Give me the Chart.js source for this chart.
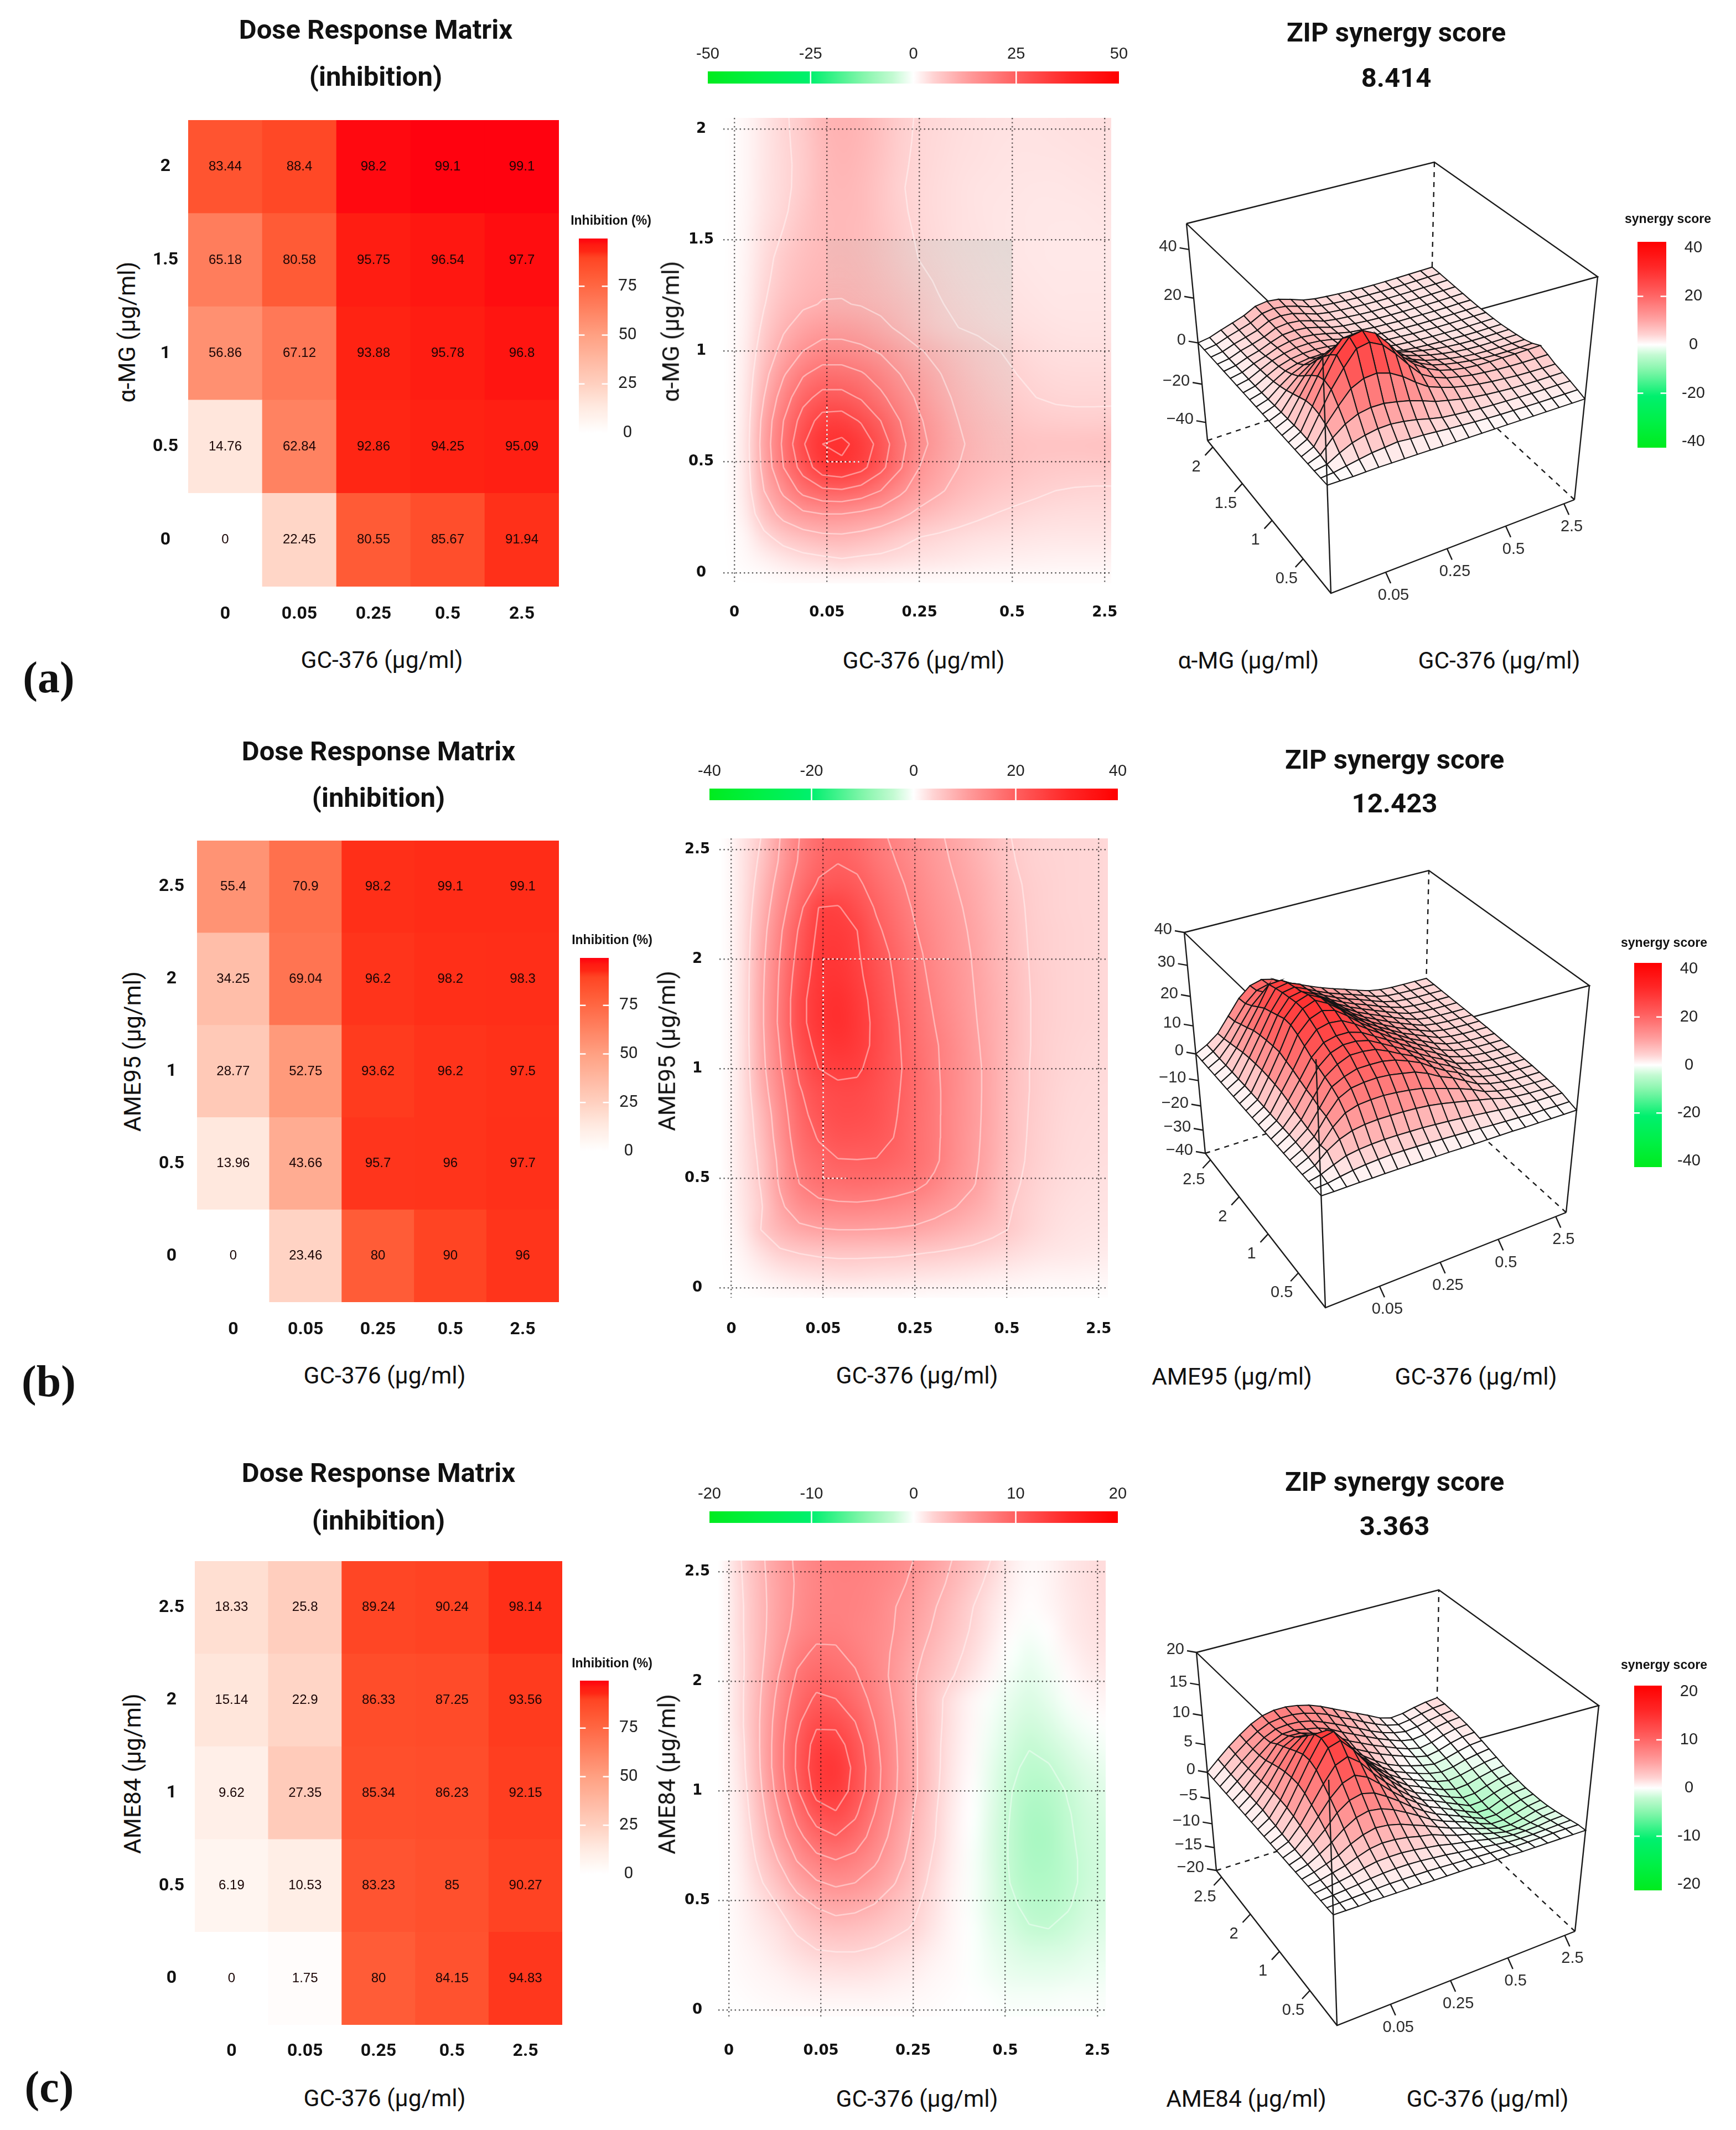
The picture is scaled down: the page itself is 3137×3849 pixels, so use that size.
<!DOCTYPE html>
<html>
<head>
<meta charset="utf-8">
<title>Dose response and ZIP synergy</title>
<style>
html, body { margin: 0; background: #fff; }
#page { position: relative; width: 3137px; height: 3849px; overflow: hidden; background: #fff; }
canvas { position: absolute; }
.t { position: absolute; white-space: nowrap; line-height: 1; color: #111; }
</style>
<script src="https://cdn.jsdelivr.net/npm/chart.js@4.4.1/dist/chart.umd.min.js"></script>
</head>
<body>
<div id="page"></div>
<script>
// dose labels
const gcDoses = ['0', '0.05', '0.25', '0.5', '2.5'];
const mgDoses = ['0', '0.5', '1', '1.5', '2'];
const ameDoses = ['0', '0.5', '1', '2', '2.5'];

// inhibition %, first row is the lowest dose of the y drug
const inhibitionA = [
  [0, 22.45, 80.55, 85.67, 91.94],
  [14.76, 62.84, 92.86, 94.25, 95.09],
  [56.86, 67.12, 93.88, 95.78, 96.8],
  [65.18, 80.58, 95.75, 96.54, 97.7],
  [83.44, 88.4, 98.2, 99.1, 99.1]
];
const inhibitionB = [
  [0, 23.46, 80, 90, 96],
  [13.96, 43.66, 95.7, 96, 97.7],
  [28.77, 52.75, 93.62, 96.2, 97.5],
  [34.25, 69.04, 96.2, 98.2, 98.3],
  [55.4, 70.9, 98.2, 99.1, 99.1]
];
const inhibitionC = [
  [0, 1.75, 80, 84.15, 94.83],
  [6.19, 10.53, 83.23, 85, 90.27],
  [9.62, 27.35, 85.34, 86.23, 92.15],
  [15.14, 22.9, 86.33, 87.25, 93.56],
  [18.33, 25.8, 89.24, 90.24, 98.14]
];

// synergy surfaces, first row is the bottom of the map
const synergyA = [
  [0,0,0,.2,.3,.3,.3,.3,.3,.2,.2,.2,.2,.2,.2,.2,.2,.2,.2,.2,.2],
  [0,.5,1.5,2.5,3.5,4,4.6,4.1,3.9,3.5,3,2.7,2.3,2,1.8,1.7,1.6,1.5,1.5,1.5,1.5],
  [0,1,4,6.5,8,9,9.2,8.6,7.6,6.2,5,4.4,3.9,3.5,3.2,3,2.8,2.7,2.7,2.7,2.7],
  [0,2,7.5,11.5,14,15,15,14,12.8,11,9,7.7,6.5,5.6,4.9,4.4,4,3.8,3.7,3.7,3.7],
  [0,2.5,10,16,21.5,24,24.5,23,20,16,12.5,10.5,8.8,7.6,6.7,6,5.5,5,4.8,4.7,4.7],
  [0,2.7,11.5,20,27,33,34,31.5,26.5,20.5,15,12,10,8.8,7.8,7.2,6.7,6.4,6.2,6.2,6.2],
  [0,2.8,12,21,29.5,35,36,33.5,28,21.5,16.5,13,10.5,9,8,7.5,7.3,7.3,7.3,7.4,7.5],
  [0,2.6,11.5,20,27,32,32.5,29.5,25,20,15.5,12.5,10,8.6,7.5,6.7,6,5.7,5.6,5.6,5.7],
  [0,2.4,10,17.5,23.5,26.5,26.5,24.5,21,17.5,14,11.3,9.2,7.8,6.6,5.7,5,4.7,4.6,4.6,4.6],
  [0,2.2,8.5,14.5,19.5,22,22,20.5,18,15,12.3,10.2,8.4,7,5.9,5,4.4,4.1,4,4,4],
  [0,2,7,11.5,15,17,17,16,14.5,12.2,10.3,8.8,7.3,6.1,5.1,4.4,3.9,3.6,3.5,3.5,3.5],
  [0,1.7,5.8,9.4,11.8,13,13,12.4,11,9.3,7.6,6,5,4.4,3.9,3.6,3.3,3.1,3,3,3],
  [0,1.5,4.8,7.8,9.4,10.2,10.2,9.8,9,8,6.6,5.2,4.4,3.9,3.5,3.2,3,2.8,2.8,2.8,2.8],
  [0,1.3,4.2,6.8,8.4,9.2,9.4,9,8.2,6.9,5.6,4.7,4,3.6,3.2,3,2.8,2.7,2.7,2.7,2.7],
  [0,1.2,3.8,6.2,7.8,8.8,9,8.6,7.6,6.2,4.9,4.2,3.7,3.3,3,2.8,2.7,2.6,2.6,2.6,2.6],
  [0,1.1,3.4,5.2,7.3,8.5,8.8,8.3,7.2,5.8,4.6,4,3.5,3.2,2.9,2.8,2.7,2.6,2.6,2.7,2.7],
  [0,1,3,4.5,6.6,8.4,8.8,8.4,7,5.4,4.4,3.9,3.4,3.1,2.9,2.8,2.7,2.7,2.7,2.8,2.9],
  [0,.9,2.9,4.3,6,8.4,9,8.5,7,5.2,4.4,3.9,3.4,3.1,3,2.9,2.8,2.8,2.9,3,3.1],
  [0,.9,2.8,4.3,5.9,8.5,9.3,8.8,7.2,5.4,4.5,4,3.6,3.3,3.1,3,3,3,3.1,3.2,3.3],
  [0,.9,2.8,4.4,6.1,8.8,9.6,9,7.5,5.6,4.6,4.1,3.7,3.4,3.2,3.1,3.1,3.2,3.3,3.4,3.5],
  [0,.9,2.8,4.5,6.3,9,9.8,9.2,7.6,5.7,4.7,4.2,3.8,3.5,3.3,3.2,3.2,3.3,3.4,3.5,3.6]
];
const synergyB = [
  [0,0,.1,.2,.2,.3,.3,.3,.3,.3,.3,.2,.2,.2,.2,.2,.1,.1,.1,.1,.1],
  [0,.4,1.2,1.9,2.4,2.7,2.9,2.9,2.8,2.7,2.5,2.3,2.1,1.9,1.6,1.4,1.2,1,1,.9,.9],
  [0,1,2.8,4.4,5.1,5.5,5.7,5.7,5.6,5.5,5.2,4.9,4.5,4.1,3.6,3.1,2.6,2.2,2,1.9,1.8],
  [0,1.6,5,7.5,9,9.7,10,10,9.9,9.7,9.3,8.6,7.7,6.8,5.8,4.8,3.6,2.9,2.5,2.3,2.2],
  [0,2,4.6,9.2,12.5,13.8,14.2,14.3,14,13.5,12.8,11.5,10.2,8.8,7.2,5.1,3.9,3.2,2.8,2.6,2.5],
  [0,2.2,5.2,10.5,15,17,17.6,17.8,17.5,16.8,16,14.3,12,10.3,8,5.6,4.3,3.5,3,2.8,2.7],
  [0,2.4,5.6,11,16.5,18.5,19.8,19.9,19.8,19,17.5,15.7,13,10.6,8.6,5.9,4.6,3.7,3.2,3,2.9],
  [0,2.5,6.2,12,17.5,20.3,22,22,21.5,19.8,17.7,15.8,13.2,10.8,8.7,6.1,4.7,3.8,3.3,3.1,3],
  [0,2.5,6.8,12.6,18.5,21.8,23.2,23.2,22.3,20.2,18,15.8,13.3,10.9,8.8,6.2,4.8,3.9,3.4,3.2,3.1],
  [0,2.5,7.8,13.5,19.5,23,24,24,22.8,20.5,18.2,15.8,13.4,11,8.8,6.3,4.9,4,3.5,3.3,3.2],
  [0,2.5,8.5,14.5,21,25,26,25.6,23.5,20.8,18.3,15.6,13.4,11,8.8,6.4,4.9,4.1,3.6,3.4,3.3],
  [0,2.5,8.8,15.2,22.5,26.3,27.8,26.8,24,20.7,17.9,15.5,13.2,10.7,8.7,6.6,5,4.1,3.7,3.5,3.4],
  [0,2.5,9,16,23.5,27.5,29,27,24,20.5,17.5,15,12.7,10.4,8.6,6.8,5,4.2,3.8,3.6,3.5],
  [0,2.5,9,15.8,23.5,27.5,28.8,26.8,23.5,20,17,14.5,12.3,10.2,8.4,6.7,5,4.2,3.8,3.6,3.5],
  [0,2.5,8.8,15.5,22.5,27,27.8,26,22.8,19.5,16.5,14,12,10,8.2,6.5,4.9,4.2,3.8,3.6,3.5],
  [0,2.4,8.5,15,21.5,26.5,27.2,25.5,22,19,16,13.5,11.6,9.8,8,6.3,4.8,4.1,3.8,3.6,3.5],
  [0,2.4,8,14.3,20.5,25.8,26.5,25,20.8,18,15.2,13,11.2,9.5,7.8,6.1,4.7,4.1,3.8,3.6,3.5],
  [0,2.3,7.2,13,18.8,25,25.3,23,19.5,17,14.5,12.5,10.7,9.2,7.5,5.9,4.6,4,3.7,3.6,3.5],
  [0,2.2,6.4,11.8,17,20.5,21.8,20.8,18.2,16,13.8,11.9,10.2,8.8,7.2,5.6,4.5,4,3.7,3.6,3.5],
  [0,2.2,5.6,10.5,15.5,18.8,19.8,19,16.8,15,13,11.2,9.7,8.3,6.8,5.2,4.3,3.9,3.7,3.6,3.5],
  [0,2.1,5,10,15,18.2,19.2,18.2,16,14.3,12.5,10.8,9.3,7.9,6.4,5,4.2,3.8,3.7,3.6,3.5]
];
const synergyC = [
  [0,0,0,.1,.1,.1,.1,.1,.1,.1,.1,.1,0,0,0,-.1,-.1,-.1,-.1,-.1,-.1],
  [0,.1,.2,.3,.4,.5,.5,.5,.5,.4,.3,.2,.1,0,-.1,-.3,-.3,-.3,-.2,-.2,-.2],
  [0,.2,.4,.6,.9,1.1,1.2,1.2,1.1,.9,.7,.4,.2,-.1,-.4,-.7,-.8,-.8,-.7,-.6,-.5],
  [0,.3,.6,1,1.5,1.9,2,2,1.8,1.5,1.2,.7,.3,-.1,-.6,-1,-1.3,-1.3,-1.2,-.9,-.8],
  [0,.4,.9,1.4,2.2,2.9,3.2,3.1,2.8,2.3,1.9,1.1,.4,-.1,-.8,-1.4,-1.9,-2,-1.7,-1.3,-1.1],
  [0,.5,1.2,2,3.2,4.1,4.6,4.4,3.9,3.1,2.3,1.4,.5,-.2,-1,-1.7,-2.4,-2.5,-2.1,-1.5,-1.3],
  [0,.6,1.7,3,4.6,5.8,6.3,6,5.2,4.1,2.9,1.6,.6,-.2,-1,-2,-2.8,-2.8,-2.3,-1.7,-1.4],
  [0,.7,2.2,4,6.1,7.5,8,7.5,6.3,4.9,3.3,1.9,.7,-.2,-1.1,-2.1,-3,-3,-2.3,-1.7,-1.4],
  [0,.8,2.6,5,7.4,9.2,9.9,9,7.3,5.4,3.7,2.2,.8,-.1,-1.1,-2.1,-3.1,-3.1,-2.2,-1.6,-1.4],
  [0,.9,3,5.8,8.6,11,11.8,10.3,8,5.9,4,2.3,.9,0,-1,-2,-3,-2.9,-2.1,-1.5,-1.2],
  [0,1,3.4,6.6,9.8,12.7,13.3,11.3,8.7,6.3,4.4,2.5,1,.1,-.9,-1.9,-2.7,-2.6,-1.9,-1.3,-1],
  [0,1.2,3.7,7,10.3,13.2,13.7,11.5,8.8,6.4,4.4,2.6,1.1,.2,-.8,-1.7,-2.3,-2.1,-1.5,-1,-.7],
  [0,1.3,3.8,7,10.2,12.8,12.9,11,8.5,6.3,4.4,2.6,1.2,.3,-.6,-1.4,-1.9,-1.6,-1.1,-.6,-.3],
  [0,1.5,3.8,6.8,9.6,11.6,11.5,10,8,6.1,4.3,2.7,1.3,.4,-.4,-1.1,-1.5,-1.2,-.6,-.2,.1],
  [0,1.5,3.7,6.4,8.9,10.3,10,8.9,7.5,5.8,4.2,2.7,1.4,.5,-.2,-.8,-1.2,-.8,-.2,.3,.5],
  [0,1.5,3.5,5.9,8.2,9.2,9,8.2,7,5.6,4.2,3.1,2.1,1.2,.4,-.4,-.9,-.5,.2,.7,.9],
  [0,1.5,3.4,5.3,7.5,8.3,8.2,7.6,6.8,5.8,4.5,3.5,2.5,1.6,.7,-.1,-.6,-.2,.5,1,1.2],
  [0,1.6,3.3,5,6.6,7.5,7.6,7.2,6.8,6,4.9,3.9,2.9,1.9,1,.2,-.2,.1,.8,1.2,1.4],
  [0,1.6,3.3,4.9,6.3,7.2,7.4,7.3,6.9,6.1,5.2,4.2,3.2,2.1,1.2,.5,.1,.4,.9,1.3,1.5],
  [0,1.7,3.4,4.9,6.2,7.1,7.4,7.4,7.1,6.5,5.7,4.6,3.7,2.6,1.6,.7,.2,.5,1,1.4,1.6],
  [0,1.8,3.5,5,6.3,7.2,7.6,7.6,7.3,6.8,6,5,4,3,2,.9,.3,.5,1,1.4,1.6]
];

const contourLevelsA = [5, 10, 15, 20, 25, 30, 35];
const contourLevelsB = [5, 10, 15, 20, 25];
const contourLevelsC = [-2, 2, 4, 6, 8, 10, 12];

const zTicksA = [40, 20, 0, -20, -40];
const zTicksB = [40, 30, 20, 10, 0, -10, -20, -30, -40];
const zTicksC = [20, 15, 10, 5, 0, -5, -10, -15, -20];

const inhibitionBarTicks = [0, 25, 50, 75];
const sideBarTicks40 = [-40, -20, 0, 20, 40];
const sideBarTicks20 = [-20, -10, 0, 10, 20];
const topBarTicksA = [-50, -25, 0, 25, 50];
const topBarTicksB = [-40, -20, 0, 20, 40];
const topBarTicksC = [-20, -10, 0, 10, 20];

// grid of the synergy tables runs over these dose indexes
const GRID_MIN = -0.1, GRID_MAX = 4.1;

Chart.defaults.animation = false;
Chart.defaults.responsive = false;
Chart.defaults.devicePixelRatio = 1;
Chart.defaults.plugins.legend.display = false;
Chart.defaults.plugins.tooltip.enabled = false;
Chart.defaults.color = '#111';

const page = document.getElementById('page');

function addCanvas(l, t, w, h) {
  const c = document.createElement('canvas');
  c.width = w; c.height = h;
  c.style.left = l + 'px'; c.style.top = t + 'px';
  c.style.width = w + 'px'; c.style.height = h + 'px';
  page.appendChild(c);
  return c;
}

function addText(str, x, y, font, rot) {
  const d = document.createElement('div');
  d.className = 't';
  d.textContent = str;
  d.style.left = x + 'px'; d.style.top = y + 'px';
  d.style.font = font;
  d.style.lineHeight = '1';
  d.style.transform = 'translate(-50%,-50%)' + (rot ? ' rotate(' + rot + 'deg)' : '');
  page.appendChild(d);
}

// keep the plot box where it is asked for, whatever the tick labels measure
function fixSize(s, w, h) {
  if (w !== null) s.width = w;
  if (h !== null) s.height = h;
  s.paddingLeft = s.paddingRight = s.paddingTop = s.paddingBottom = 0;
}

// colour ramps: [stop, r, g, b]
const inhibitionCommon = [[0,255,255,255],[14,255,232,222],[25,255,208,192],[50,255,160,130],[65,255,125,92],[80,255,92,55],[90,255,68,35]];
const inhibitionHot = inhibitionCommon.concat([[92.9,255,38,20],[96,255,28,18],[99,255,2,15]]);
const inhibitionMild = inhibitionCommon.concat([[100,255,42,22]]);
const synergyStops = [[0,255,255,255],[.1,255,210,210],[.25,255,160,160],[.5,255,95,95],[.75,255,40,40],[1,255,0,0]];
const greenStops = [[0,255,255,255],[.1,195,250,210],[.25,130,245,170],[.5,0,240,110],[.75,0,240,70],[1,0,235,30]];

function ramp(stops, v) {
  if (v <= stops[0][0]) return stops[0].slice(1);
  for (let i = 1; i < stops.length; i++) {
    if (v <= stops[i][0]) {
      const a = stops[i - 1], b = stops[i], k = (v - a[0]) / (b[0] - a[0]);
      return [a[1] + (b[1] - a[1]) * k, a[2] + (b[2] - a[2]) * k, a[3] + (b[3] - a[3]) * k];
    }
  }
  return stops[stops.length - 1].slice(1);
}
function rgb(c) { return 'rgb(' + c.map(Math.round).join(',') + ')'; }
function synergyColor(z, zMax) {
  const t = Math.abs(z) / zMax;
  return z >= 0 ? ramp(synergyStops, t) : ramp(greenStops, t);
}

// Inhibition matrix: floating bars, one dataset for each row
function matrixChart(p) {
  const w = p.r - p.l + 110, h = p.b - p.t + 130;
  const rowTicks = [0.5, 1.5, 2.5, 3.5, 4.5];
  const valueText = {
    id: 'valueText',
    afterDatasetsDraw(chart) {
      const ctx = chart.ctx;
      ctx.save();
      ctx.font = '24px "Liberation Sans"';
      ctx.fillStyle = '#1a0505';
      ctx.textAlign = 'center';
      ctx.textBaseline = 'middle';
      chart.data.datasets.forEach((ds, r) => {
        chart.getDatasetMeta(r).data.forEach((bar, c) => {
          ctx.fillText(String(p.values[r][c]), bar.x, (bar.y + bar.base) / 2);
        });
      });
      ctx.restore();
    }
  };
  new Chart(addCanvas(p.l - 80, p.t - 30, w, h), {
    type: 'bar',
    data: {
      labels: gcDoses,
      datasets: p.values.map((row, r) => ({
        data: row.map(() => [r, r + 1]),
        backgroundColor: row.map(v => rgb(ramp(p.colors, v))),
        barPercentage: 1,
        categoryPercentage: 1,
        grouped: false
      }))
    },
    options: {
      layout: { padding: { top: 30, right: 30 } },
      scales: {
        x: {
          grid: { display: false }, border: { display: false },
          afterFit(s) { fixSize(s, null, 100); },
          ticks: { padding: p.xPad, font: { family: 'Roboto', weight: '700', size: 32 }, maxRotation: 0 }
        },
        y: {
          min: 0, max: 5,
          grid: { display: false }, border: { display: false },
          afterFit(s) { fixSize(s, 80, null); },
          afterBuildTicks(s) { s.ticks = rowTicks.map(v => ({ value: v })); },
          ticks: {
            crossAlign: 'center', padding: p.yPad,
            font: { family: 'Roboto', weight: '700', size: 32 },
            callback: v => p.rows[Math.floor(v)]
          }
        }
      }
    },
    plugins: [valueText]
  });
}

// short white marks inside a colour bar
function barMarks(horizontal, edge) {
  return {
    id: 'barMarks',
    afterDatasetsDraw(chart) {
      const ctx = chart.ctx, a = chart.chartArea;
      ctx.save();
      ctx.strokeStyle = '#fff';
      ctx.lineWidth = 2.5;
      const scale = horizontal ? chart.scales.x : chart.scales.y;
      scale.ticks.forEach(t => {
        if (t.value === 0 || Math.abs(t.value) === edge) return;
        const q = scale.getPixelForValue(t.value);
        ctx.beginPath();
        if (horizontal) {
          ctx.moveTo(q, a.top); ctx.lineTo(q, a.bottom);
        } else {
          const len = (a.right - a.left) / 5;
          ctx.moveTo(a.left, q); ctx.lineTo(a.left + len, q);
          ctx.moveTo(a.right - len, q); ctx.lineTo(a.right, q);
        }
        ctx.stroke();
      });
      ctx.restore();
    }
  };
}

// Colour bar as one floating bar with a gradient fill
function colorBar(p) {
  const horizontal = !!p.horizontal;
  const range = p.max - p.min;
  const fill = ctx => {
    const a = ctx.chart.chartArea;
    if (!a) return '#fff';
    const g = horizontal
      ? ctx.chart.ctx.createLinearGradient(a.left, 0, a.right, 0)
      : ctx.chart.ctx.createLinearGradient(0, a.bottom, 0, a.top);
    for (let i = 0; i <= 60; i++) {
      const v = p.min + range * i / 60;
      g.addColorStop(i / 60, rgb(p.color(v)));
    }
    return g;
  };
  const valueScale = {
    min: p.min, max: p.max,
    grid: { display: false }, border: { display: false },
    afterBuildTicks(s) { s.ticks = p.ticks.map(v => ({ value: v })); },
    ticks: {
      padding: p.pad,
      font: { family: p.font || 'Liberation Sans', size: p.size || 29 }, color: '#222', maxRotation: 0, autoSkip: false,
      callback: v => String(v)
    }
  };
  const bar = { data: [[p.min, p.max]], backgroundColor: fill, barPercentage: 1, categoryPercentage: 1 };
  if (horizontal) {
    valueScale.position = 'top';
    valueScale.afterFit = s => fixSize(s, null, 60);
    new Chart(addCanvas(p.l - 40, p.t - 60, p.r - p.l + 80, p.b - p.t + 60), {
      type: 'bar',
      data: { labels: [''], datasets: [bar] },
      options: {
        indexAxis: 'y',
        layout: { padding: { left: 40, right: 40 } },
        scales: { x: valueScale, y: { display: false } }
      },
      plugins: [barMarks(true, p.edge)]
    });
  } else {
    valueScale.position = 'right';
    valueScale.ticks.crossAlign = 'center';
    valueScale.afterFit = s => fixSize(s, 90, null);
    new Chart(addCanvas(p.l, p.t - 20, p.r - p.l + 90, p.b - p.t + 40), {
      type: 'bar',
      data: { labels: [''], datasets: [bar] },
      options: {
        layout: { padding: { top: 20, bottom: 20 } },
        scales: { y: valueScale, x: { display: false } }
      },
      plugins: [barMarks(false, p.edge)]
    });
  }
}

// Line segments of one contour level, cells walked one by one
function contourSegments(grid, level) {
  const n = grid.length, step = (GRID_MAX - GRID_MIN) / (n - 1), pts = [];
  const cross = (x1, y1, z1, x2, y2, z2) => {
    const k = (level - z1) / (z2 - z1);
    return { x: x1 + (x2 - x1) * k, y: y1 + (y2 - y1) * k };
  };
  for (let j = 0; j < n - 1; j++) {
    for (let i = 0; i < n - 1; i++) {
      const x0 = GRID_MIN + i * step, x1 = x0 + step, y0 = GRID_MIN + j * step, y1 = y0 + step;
      const a = grid[j][i], b = grid[j][i + 1], c = grid[j + 1][i + 1], d = grid[j + 1][i];
      const hits = [];
      if ((a < level) !== (b < level)) hits.push(cross(x0, y0, a, x1, y0, b));
      if ((b < level) !== (c < level)) hits.push(cross(x1, y0, b, x1, y1, c));
      if ((c < level) !== (d < level)) hits.push(cross(x1, y1, c, x0, y1, d));
      if ((d < level) !== (a < level)) hits.push(cross(x0, y1, d, x0, y0, a));
      for (let h = 0; h + 1 < hits.length; h += 2) {
        pts.push(hits[h], hits[h + 1], { x: hits[h].x, y: null });
      }
    }
  }
  return pts;
}

// Synergy map: heat image placed by the scales, contours as line datasets
function contourChart(p) {
  const n = p.grid.length;
  const img = document.createElement('canvas');
  img.width = n; img.height = n;
  const ictx = img.getContext('2d');
  const data = ictx.createImageData(n, n);
  for (let j = 0; j < n; j++) {
    for (let i = 0; i < n; i++) {
      const c = synergyColor(p.grid[j][i], p.zMax), o = ((n - 1 - j) * n + i) * 4;
      data.data[o] = c[0]; data.data[o + 1] = c[1]; data.data[o + 2] = c[2]; data.data[o + 3] = 255;
    }
  }
  ictx.putImageData(data, 0, 0);
  const half = (GRID_MAX - GRID_MIN) / (n - 1) / 2;
  const heat = {
    id: 'heat',
    beforeDraw(chart) {
      const ctx = chart.ctx, a = chart.chartArea, sx = chart.scales.x, sy = chart.scales.y;
      ctx.save();
      ctx.beginPath(); ctx.rect(a.left, a.top, a.right - a.left, a.bottom - a.top); ctx.clip();
      ctx.imageSmoothingEnabled = true;
      ctx.imageSmoothingQuality = 'high';
      const l = sx.getPixelForValue(GRID_MIN - half), r = sx.getPixelForValue(GRID_MAX + half);
      const t = sy.getPixelForValue(GRID_MAX + half), b = sy.getPixelForValue(GRID_MIN - half);
      ctx.drawImage(img, l, t, r - l, b - t);
      if (p.patch) {
        // faint grey square of the original, only visible towards its upper right
        const px = sx.getPixelForValue(p.patch.x0), py = sy.getPixelForValue(p.patch.y1);
        const pw = sx.getPixelForValue(p.patch.x1) - px, ph = sy.getPixelForValue(p.patch.y0) - py;
        const g = ctx.createLinearGradient(px, py + ph, px + pw, py);
        g.addColorStop(0, 'rgba(165,185,175,0)');
        g.addColorStop(0.35, 'rgba(165,185,175,.04)');
        g.addColorStop(1, 'rgba(165,185,175,.3)');
        ctx.fillStyle = g;
        ctx.fillRect(px, py, pw, ph);
      }
      ctx.restore();
    }
  };
  const axisTicks = [0, 1, 2, 3, 4];
  const grid = { color: 'rgba(0,0,0,.62)', lineWidth: 2.4, drawTicks: false };
  const tickFont = { family: 'DejaVu Sans', weight: '700', size: 26 };
  const datasets = p.levels.map(level => ({
    data: contourSegments(p.grid, level),
    showLine: true, pointRadius: 0, spanGaps: false,
    borderColor: 'rgba(255,255,255,.42)', borderWidth: 2.6
  }));
  (p.whiteDots || []).forEach(seg => datasets.unshift({
    data: seg, showLine: true, pointRadius: 0, borderColor: '#fff', borderWidth: 2.4, borderDash: [3, 5]
  }));
  new Chart(addCanvas(p.l - 80, p.t - 30, p.r - p.l + 110, p.b - p.t + 130), {
    type: 'scatter',
    data: { datasets },
    options: {
      layout: { padding: { top: 30, right: 30 } },
      scales: {
        x: {
          min: p.xMin, max: p.xMax,
          grid, border: { display: false, dash: [2.4, 5] },
          afterFit(s) { fixSize(s, null, 100); },
          afterBuildTicks(s) { s.ticks = axisTicks.map(v => ({ value: v })); },
          ticks: { padding: p.xPad, font: tickFont, maxRotation: 0, callback: v => gcDoses[v] }
        },
        y: {
          min: p.yMin, max: p.yMax,
          grid, border: { display: false, dash: [2.4, 5] },
          afterFit(s) { fixSize(s, 80, null); },
          afterBuildTicks(s) { s.ticks = axisTicks.map(v => ({ value: v })); },
          ticks: { crossAlign: 'center', padding: p.yPad, font: tickFont, callback: v => p.rows[v] }
        }
      }
    },
    plugins: [heat]
  });
}

// 3D box: eight projected corners, depth weight gives the perspective of the z direction
function makeProjector(box, zMax) {
  const bilin = (c, u, v, k) =>
    (1 - u) * (1 - v) * c.front[k] + u * (1 - v) * c.right[k] + (1 - u) * v * c.left[k] + u * v * c.back[k];
  return (u, v, z) => {
    const t = (z + zMax) / (2 * zMax);
    const wb = (1 - t) * 1.1, wt = t * 0.9, w = wb + wt;
    return {
      x: (wb * bilin(box.bottom, u, v, 0) + wt * bilin(box.top, u, v, 0)) / w,
      y: (wb * bilin(box.bottom, u, v, 1) + wt * bilin(box.top, u, v, 1)) / w
    };
  };
}

function surfaceChart(p) {
  const L = 2060, T = p.top, W = 920, H = p.height;
  const project = makeProjector(p.box, p.zMax);
  const n = p.grid.length, last = n - 1;
  const z = p.zMax;
  const line = (pts, width, dash) => ({
    data: pts, showLine: true, pointRadius: 0, borderColor: '#1a1a1a', borderWidth: width, borderDash: dash || [], fill: false
  });
  const c3 = (u, v, zz) => project(u, v, zz);
  const datasets = [];
  // hidden edges first
  datasets.push(line([c3(0, 1, -z), c3(1, 1, -z)], 2.4, [9, 9]));
  datasets.push(line([c3(1, 0, -z), c3(1, 1, -z)], 2.4, [9, 9]));
  datasets.push(line([c3(1, 1, -z), c3(1, 1, z)], 2.4, [9, 9]));
  // top frame and side edges
  datasets.push(line([c3(0, 1, z), c3(1, 1, z), c3(1, 0, z), c3(0, 0, z), c3(0, 1, z)], 2.4));
  datasets.push(line([c3(0, 1, z), c3(0, 1, -z)], 2.4));
  datasets.push(line([c3(1, 0, z), c3(1, 0, -z)], 2.4));
  // mesh cells back to front
  for (let j = last - 1; j >= 0; j--) {
    for (let i = last - 1; i >= 0; i--) {
      const a = p.grid[j][i], b = p.grid[j][i + 1], c = p.grid[j + 1][i + 1], d = p.grid[j + 1][i];
      const pt = (ii, jj, zz) => project(ii / last, jj / last, zz);
      datasets.push({
        data: [pt(i, j, a), pt(i + 1, j, b), pt(i + 1, j + 1, c), pt(i, j + 1, d), pt(i, j, a)],
        showLine: true, pointRadius: 0, borderColor: '#151515', borderWidth: 2,
        backgroundColor: rgb(synergyColor((a + b + c + d) / 4, z)), fill: 'shape'
      });
    }
  }
  // front edges on top of the mesh
  datasets.push(line([c3(0, 0, -z), c3(0, 0, z)], 2.4));
  datasets.push(line([c3(0, 1, -z), c3(0, 0, -z), c3(1, 0, -z)], 2.4));

  // tick marks along the box; labels collected for the text plugin
  const labels = [];
  const tickFrac = [0.225, 0.477, 0.718, 0.957];
  tickFrac.forEach((f, k) => {
    const e = c3(f, 0, -z);
    datasets.push(line([e, { x: e.x + 9, y: e.y + 20 }], 2.4));
    labels.push({ s: gcDoses[k + 1], x: e.x + 14, y: e.y + 42, a: 'center' });
    const g = c3(0, f, -z);
    datasets.push(line([g, { x: g.x - 14, y: g.y + 15 }], 2.4));
    labels.push({ s: p.rows[k + 1], x: g.x - 30, y: g.y + 36, a: 'center' });
  });
  p.zTicks.forEach(v => {
    const e = c3(0, 1, v);
    datasets.push(line([e, { x: e.x - 17, y: e.y - 3 }], 2.4));
    labels.push({ s: String(v).replace('-', '\u2212'), x: e.x - 22, y: e.y - 5, a: 'right' });
  });
  datasets.forEach((ds, i) => { ds.order = datasets.length - i; ds.clip = false; });

  const boxText = {
    id: 'boxText',
    afterDraw(chart) {
      const ctx = chart.ctx, sx = chart.scales.x, sy = chart.scales.y;
      ctx.save();
      ctx.font = '29px "Liberation Sans"';
      ctx.fillStyle = '#2b2b2b';
      ctx.textBaseline = 'middle';
      labels.forEach(t => {
        ctx.textAlign = t.a;
        ctx.fillText(t.s, sx.getPixelForValue(t.x), sy.getPixelForValue(t.y));
      });
      ctx.restore();
    }
  };
  new Chart(addCanvas(L, T, W, H), {
    type: 'scatter',
    data: { datasets },
    options: {
      layout: { padding: 0 },
      scales: {
        x: { display: false, min: L, max: L + W },
        y: { display: false, min: T, max: T + H, reverse: true }
      }
    },
    plugins: [boxText]
  });
}

function inhibitionBar(l, r, t, b) {
  colorBar({ l, r, t, b, min: 0, max: 99.4, ticks: inhibitionBarTicks, edge: -1, pad: 11, font: 'Roboto', size: 30, color: v => ramp(inhibitionHot, v) });
}
function synergyTopBar(l, r, t, b, zMax, ticks) {
  colorBar({ horizontal: true, l, r, t, b, min: -zMax, max: zMax, ticks, edge: zMax, pad: 6, color: v => synergyColor(v, zMax) });
}
function synergySideBar(l, r, t, b, zTop, ticks) {
  colorBar({ l, r, t, b, min: -zTop, max: zTop, ticks, edge: ticks[ticks.length - 1], pad: 20, color: v => synergyColor(v, zTop) });
}

const titleFont = '700 49px Roboto';
const axisFont = '400 42.5px Roboto';
const letterFont = '700 80px "Liberation Serif"';
const barTitleFont = '700 23px "Liberation Sans"';

// Row a
addText('Dose Response Matrix', 679, 53, titleFont);
addText('(inhibition)', 679, 138, titleFont);
matrixChart({ l: 340, r: 1010, t: 217, b: 1060, values: inhibitionA, rows: mgDoses, colors: inhibitionHot, xPad: 23, yPad: 10 });
inhibitionBar(1046, 1098, 431, 782);
addText('Inhibition (%)', 1104, 398, barTitleFont);
addText('GC-376 (\u00b5g/ml)', 690, 1193, axisFont);
addText('\u03b1-MG (\u00b5g/ml)', 230, 600, axisFont, -90);
addText('(a)', 88, 1224, letterFont);

synergyTopBar(1279, 2022, 129, 151, 50, topBarTicksA);
contourChart({ l: 1307, r: 2008, t: 213, b: 1054, grid: synergyA, zMax: 50, levels: contourLevelsA, rows: mgDoses,
  xMin: -0.12, xMax: 4.07, yMin: -0.095, yMax: 4.1, xPad: 38, yPad: 17,
  patch: { x0: 1, x1: 3, y0: 1, y1: 3 },
  whiteDots: [[{ x: 1, y: 1 }, { x: 1, y: 1.5 }], [{ x: 1, y: 1 }, { x: 1.35, y: 1 }]] });
addText('GC-376 (\u00b5g/ml)', 1669, 1194, axisFont);
addText('\u03b1-MG (\u00b5g/ml)', 1213, 599, axisFont, -90);

addText('ZIP synergy score', 2523, 58, titleFont);
addText('8.414', 2523, 140, titleFont);
surfaceChart({ top: 250, height: 900, grid: synergyA, zMax: 50, rows: mgDoses, zTicks: zTicksA,
  box: { bottom: { front: [2405, 1072], right: [2845, 903], left: [2182, 796], back: [2584, 662] },
         top: { front: [2390, 638], right: [2887, 500], left: [2144, 404], back: [2592, 293] } } });
synergySideBar(2959, 3011, 437, 809, 42.5, sideBarTicks40);
addText('synergy score', 3014, 395, barTitleFont);
addText('\u03b1-MG (\u00b5g/ml)', 2256, 1194, axisFont);
addText('GC-376 (\u00b5g/ml)', 2709, 1194, axisFont);

// Row b
addText('Dose Response Matrix', 684, 1357, titleFont);
addText('(inhibition)', 684, 1441, titleFont);
matrixChart({ l: 356, r: 1010, t: 1519, b: 2353, values: inhibitionB, rows: ameDoses, colors: inhibitionMild, xPad: 23, yPad: 15 });
inhibitionBar(1048, 1100, 1731, 2080);
addText('Inhibition (%)', 1106, 1698, barTitleFont);
addText('GC-376 (\u00b5g/ml)', 695, 2486, axisFont);
addText('AME95 (\u00b5g/ml)', 240, 1900, axisFont, -90);
addText('(b)', 88, 2496, letterFont);

synergyTopBar(1282, 2020, 1425, 1446, 40, topBarTicksB);
contourChart({ l: 1300, r: 2002, t: 1515, b: 2345, grid: synergyB, zMax: 40, levels: contourLevelsB, rows: ameDoses,
  xMin: -0.13, xMax: 4.1, yMin: -0.09, yMax: 4.1, xPad: 42, yPad: 17,
  whiteDots: [[{ x: 1, y: 3 }, { x: 2.4, y: 3 }], [{ x: 1, y: 3 }, { x: 1, y: 1 }], [{ x: 1, y: 1 }, { x: 1.25, y: 1 }]] });
addText('GC-376 (\u00b5g/ml)', 1657, 2486, axisFont);
addText('AME95 (\u00b5g/ml)', 1206, 1899, axisFont, -90);

addText('ZIP synergy score', 2520, 1372, titleFont);
addText('12.423', 2520, 1451, titleFont);
surfaceChart({ top: 1540, height: 900, grid: synergyB, zMax: 40, rows: ameDoses, zTicks: zTicksB,
  box: { bottom: { front: [2395, 2363], right: [2830, 2191], left: [2178, 2084], back: [2573, 1958] },
         top: { front: [2378, 1914], right: [2872, 1781], left: [2140, 1685], back: [2582, 1573] } } });
synergySideBar(2953, 3003, 1740, 2109, 42.5, sideBarTicks40);
addText('synergy score', 3007, 1703, barTitleFont);
addText('AME95 (\u00b5g/ml)', 2226, 2488, axisFont);
addText('GC-376 (\u00b5g/ml)', 2667, 2488, axisFont);

// Row c
addText('Dose Response Matrix', 684, 2661, titleFont);
addText('(inhibition)', 684, 2747, titleFont);
matrixChart({ l: 352, r: 1016, t: 2821, b: 3659, values: inhibitionC, rows: ameDoses, colors: inhibitionMild, xPad: 21, yPad: 11 });
inhibitionBar(1048, 1100, 3037, 3386);
addText('Inhibition (%)', 1106, 3005, barTitleFont);
addText('GC-376 (\u00b5g/ml)', 695, 3792, axisFont);
addText('AME84 (\u00b5g/ml)', 240, 3205, axisFont, -90);
addText('(c)', 89, 3771, letterFont);

synergyTopBar(1282, 2020, 2731, 2752, 20, topBarTicksC);
contourChart({ l: 1298, r: 1998, t: 2820, b: 3644, grid: synergyC, zMax: 20, levels: contourLevelsC, rows: ameDoses,
  xMin: -0.115, xMax: 4.09, yMin: -0.06, yMax: 4.1, xPad: 47, yPad: 15 });
addText('GC-376 (\u00b5g/ml)', 1657, 3793, axisFont);
addText('AME84 (\u00b5g/ml)', 1206, 3206, axisFont, -90);

addText('ZIP synergy score', 2520, 2677, titleFont);
addText('3.363', 2520, 2757, titleFont);
surfaceChart({ top: 2840, height: 900, grid: synergyC, zMax: 20, rows: ameDoses, zTicks: zTicksC,
  box: { bottom: { front: [2416, 3660], right: [2846, 3490], left: [2198, 3380], back: [2594, 3255] },
         top: { front: [2401, 3216], right: [2889, 3082], left: [2162, 2986], back: [2600, 2873] } } });
synergySideBar(2953, 3003, 3046, 3416, 21.25, sideBarTicks20);
addText('synergy score', 3007, 3008, barTitleFont);
addText('AME84 (\u00b5g/ml)', 2252, 3793, axisFont);
addText('GC-376 (\u00b5g/ml)', 2688, 3793, axisFont);
</script>
</body>
</html>
